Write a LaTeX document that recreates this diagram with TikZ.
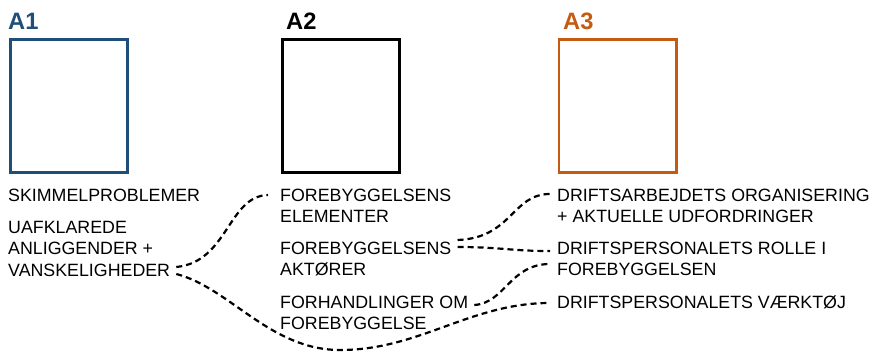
\documentclass[tikz,border=0pt]{standalone}
\usepackage{fontspec}
\setmainfont{Liberation Sans}
\definecolor{blauA}{RGB}{31,78,121}
\definecolor{orangeA}{RGB}{197,90,17}
\begin{document}
\begin{tikzpicture}[x=1pt,y=-1pt,
	txt/.style={anchor=north west,inner sep=0pt,align=left,font=\fontsize{17.8}{21.6}\selectfont},
	hd/.style={anchor=base west,inner sep=0pt,font=\fontsize{23.7}{28}\selectfont\bfseries},
	kasse/.style={draw,line width=2.6pt,minimum width=117.4pt,minimum height=133.4pt,inner sep=0pt},
	forb/.style={line width=2.2pt,dash pattern=on 6pt off 4pt}]
	\useasboundingbox (0,0) rectangle (875,352);
	\node[kasse,draw=blauA] (k1) at (69,106) {};
	\node[kasse,line width=3pt] (k2) at (341.2,106) {};
	\node[kasse,draw=orangeA] (k3) at (617.7,106) {};
	\node[hd,text=blauA] (h1) at (8,30) {A1};
	\node[hd] (h2) at (286,29.5) {A2};
	\node[hd,text=orangeA] (h3) at (563,30) {A3};
	\node[txt] (skim) at (8,185.9) {\strut SKIMMELPROBLEMER};
	\node[txt] (uaf) at (8,217.9) {\strut UAFKLAREDE\\ANLIGGENDER +\\VANSKELIGHEDER};
	\node[txt] (fe) at (280,185.9) {\strut FOREBYGGELSENS\\ELEMENTER};
	\node[txt] (fa) at (280,238.9) {\strut FOREBYGGELSENS\\AKTØRER};
	\node[txt] (fh) at (280,292.9) {\strut FORHANDLINGER OM\\FOREBYGGELSE};
	\node[txt] (dorg) at (557,185.9) {\strut DRIFTSARBEJDETS ORGANISERING\\+ AKTUELLE UDFORDRINGER};
	\node[txt] (drol) at (557,238.9) {\strut DRIFTSPERSONALETS ROLLE I\\FOREBYGGELSEN};
	\node[txt] (dvt) at (557,292.9) {\strut DRIFTSPERSONALETS VÆRKTØJ};
	%forbindelser
	\draw[forb] ([shift={(6,49.1)}]uaf.north east) .. controls (228,262) and (228,196) .. ([shift={(-12,9.1)}]fe.north west);
	\draw[forb] ([shift={(6,56.1)}]uaf.north east) .. controls (230,288) and (270,350) .. (340,350) .. controls (420,350) and (470,303) .. ([shift={(-7,10.1)}]dvt.north west);
	\draw[forb] ([shift={(6,1.1)}]fa.north east) .. controls (512,238) and (512,194) .. ([shift={(-7,8.1)}]dorg.north west);
	\draw[forb] ([shift={(6,8.1)}]fa.north east) .. controls (500,247) and (510,251) .. ([shift={(-7,12.1)}]drol.north west);
	\draw[forb] ([shift={(6,12.1)}]fh.north east) .. controls (505,303) and (510,264) .. ([shift={(-7,25.1)}]drol.north west);
\end{tikzpicture}
\end{document}
